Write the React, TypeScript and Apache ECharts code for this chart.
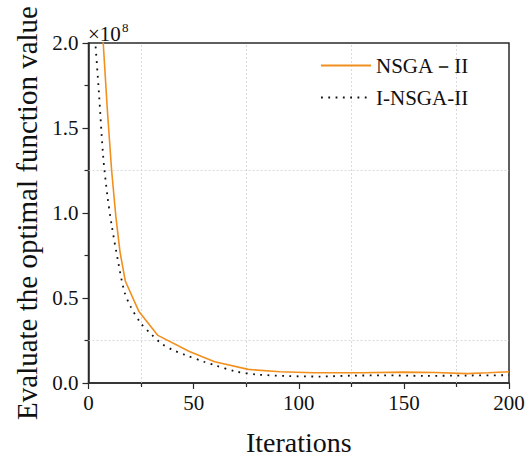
import React, { useEffect, useRef } from "react";
import * as echarts from "echarts";

const nsgaIter = [1, 5, 7, 9, 11, 13, 15, 17.5, 24, 33, 48, 60, 76, 91, 107, 130, 150, 165, 180, 190, 200];
const nsgaVal = [3.0, 2.4, 2.0, 1.6, 1.25, 0.98, 0.77, 0.6, 0.42, 0.28, 0.185, 0.125, 0.08, 0.066, 0.06, 0.06, 0.064, 0.062, 0.055, 0.06, 0.066];

const insgaIter = [1, 3, 5, 7, 9, 11, 14, 17, 20, 25, 30, 35, 40, 46, 55, 60, 70, 80, 95, 110, 125, 140, 160, 180, 200];
const insgaVal = [2.45, 2.05, 1.7, 1.33, 1.1, 0.93, 0.72, 0.54, 0.45, 0.35, 0.285, 0.23, 0.195, 0.165, 0.125, 0.105, 0.068, 0.05, 0.041, 0.038, 0.043, 0.045, 0.042, 0.044, 0.046];

const seriesNames = ["NSGA－II", "I-NSGA-II"];
const xTitle = "Iterations";
const yTitle = "Evaluate the optimal function value";
const yGridValues = [0.25, 1.25];
const xGridValues = [25, 75, 125, 175];

const FONT = "'Liberation Serif', 'Times New Roman', serif";

export default function App() {
  const ref = useRef<HTMLDivElement>(null);
  useEffect(() => {
    const chart = echarts.init(ref.current!, null, { renderer: "svg" });
    const axisColor = "#2a2a2a";
    const gridStyle = { color: "#d0d0d0", type: [2, 2] as number[], width: 0.8, opacity: 1 };
    chart.setOption({
      animation: false,
      backgroundColor: "#fff",
      grid: {
        left: 88.5,
        right: 19,
        top: 43,
        bottom: 79,
        show: true,
        borderColor: axisColor,
        borderWidth: 1.5,
        containLabel: false,
      },
      legend: {
        orient: "vertical",
        left: 315,
        top: 50,
        itemWidth: 50,
        itemHeight: 14,
        itemGap: 11,
        itemStyle: { opacity: 0 },
        textStyle: { fontFamily: FONT, fontSize: 21, color: "#111" },
        data: seriesNames,
      },
      xAxis: {
        type: "value",
        min: 0,
        max: 200,
        interval: 50,
        name: xTitle,
        nameLocation: "middle",
        nameGap: 45,
        nameTextStyle: { fontFamily: FONT, fontSize: 28, color: "#111" },
        axisLine: { show: true, lineStyle: { color: axisColor, width: 1.5 } },
        axisTick: { show: true, inside: false, length: 6, lineStyle: { color: axisColor, width: 1.2 } },
        minorTick: { show: true, splitNumber: 2, length: 4, lineStyle: { color: axisColor, width: 1.2 } },
        axisLabel: { fontFamily: FONT, fontSize: 21, color: "#111", margin: 9 },
        splitLine: { show: false },
        minorSplitLine: { show: false },
        splitArea: { show: false },
      },
      yAxis: {
        type: "value",
        min: 0,
        max: 2,
        interval: 0.5,
        name: yTitle,
        nameLocation: "middle",
        nameGap: 47,
        nameTextStyle: { fontFamily: FONT, fontSize: 29, color: "#111" },
        axisLine: { show: true, lineStyle: { color: axisColor, width: 1.5 } },
        axisTick: { show: true, inside: false, length: 6, lineStyle: { color: axisColor, width: 1.2 } },
        minorTick: { show: true, splitNumber: 2, length: 4, lineStyle: { color: axisColor, width: 1.2 } },
        axisLabel: {
          fontFamily: FONT,
          fontSize: 21,
          color: "#111",
          margin: 10,
          formatter: (v: number) => v.toFixed(1),
        },
        splitLine: { show: false },
        minorSplitLine: { show: false },
        splitArea: { show: false },
      },
      graphic: [
        {
          type: "text",
          left: 88,
          top: 23,
          style: { text: "×10", fontFamily: FONT, fontSize: 21, fill: "#111" },
        },
        {
          type: "text",
          left: 122,
          top: 21,
          style: { text: "8", fontFamily: FONT, fontSize: 13, fill: "#111" },
        },
      ],
      series: [
        {
          name: seriesNames[0],
          type: "line",
          data: nsgaIter.map((x, i) => [x, nsgaVal[i]]),
          symbol: "none",
          showSymbol: false,
          lineStyle: { color: "#F2901E", width: 1.6 },
          itemStyle: { color: "#F2901E" },
          clip: true,
          z: 3,
          markLine: {
            silent: true,
            symbol: "none",
            label: { show: false },
            emphasis: { disabled: true },
            lineStyle: gridStyle,
            data: [
              ...yGridValues.map((v) => ({ yAxis: v, lineStyle: gridStyle })),
              ...xGridValues.map((v) => ({ xAxis: v, lineStyle: gridStyle })),
            ],
            z: 1,
          },
        },
        {
          name: seriesNames[1],
          type: "line",
          data: insgaIter.map((x, i) => [x, insgaVal[i]]),
          symbol: "none",
          showSymbol: false,
          smooth: 0.3,
          lineStyle: { color: "#111", width: 1.8, type: [1.8, 5.5], cap: "butt" },
          itemStyle: { color: "#111" },
          clip: true,
          z: 2,
        },
      ],
    });
    return () => chart.dispose();
  }, []);
  return (
    <div
      ref={ref}
      style={{ position: "fixed", left: 0, top: 0, width: 528, height: 462, background: "#fff" }}
    />
  );
}
